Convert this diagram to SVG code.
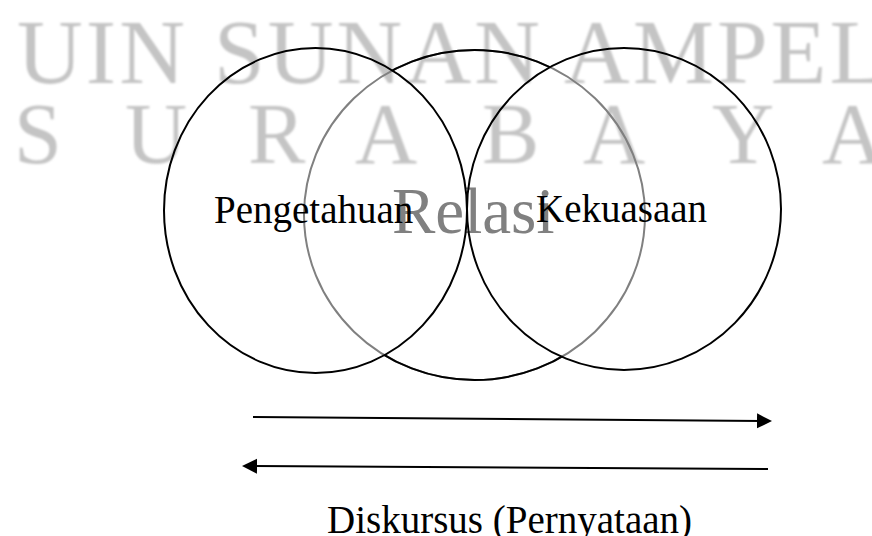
<svg xmlns="http://www.w3.org/2000/svg" width="872" height="536" viewBox="0 0 872 536">
  <style>
    .wm { font-family: "Liberation Serif", "Times New Roman", serif; fill: #c4c4c4; }
    .lbl { font-family: "Liberation Serif", "Times New Roman", serif; font-size: 39px; fill: #000; }
    .circ { fill: none; stroke: #000; stroke-width: 2; }
    .arrow { stroke: #000; stroke-width: 2; fill: none; marker-end: url(#head); }
  </style>
  <defs>
    <filter id="soft" x="-5%" y="-20%" width="110%" height="140%">
      <feGaussianBlur stdDeviation="1.3"/>
    </filter>
    <marker id="head" markerUnits="userSpaceOnUse" markerWidth="16" markerHeight="16" refX="5" refY="7.5" orient="auto">
      <path d="M0,0 L15,7.5 L0,15 Z" fill="#000"/>
    </marker>
    <mask id="outsideSides" maskUnits="userSpaceOnUse" x="0" y="0" width="872" height="536">
      <rect x="0" y="0" width="872" height="536" fill="#fff"/>
      <ellipse cx="315.5" cy="210.5" rx="151.5" ry="162.5" fill="#000"/>
      <ellipse cx="624" cy="209" rx="157" ry="161" fill="#000"/>
    </mask>
  </defs>
  <rect width="872" height="536" fill="#fff"/>

  <g id="watermark" filter="url(#soft)">
    <text class="wm" x="17" y="83" font-size="91" textLength="868" lengthAdjust="spacing">UIN SUNAN AMPEL</text>
    <text class="wm" y="163" font-size="86"><tspan x="14">S</tspan><tspan x="125">U</tspan><tspan x="248">R</tspan><tspan x="355">A</tspan><tspan x="482">B</tspan><tspan x="583">A</tspan><tspan x="712">Y</tspan><tspan x="822">A</tspan></text>
  </g>

  <g id="relasi">
    <ellipse cx="474.5" cy="215" rx="170.5" ry="165" fill="none" stroke="#808080" stroke-width="2"/>
    <ellipse cx="474.5" cy="215" rx="170.5" ry="165" class="circ" mask="url(#outsideSides)"/>
    <text x="392" y="233" font-family="Liberation Serif, Times New Roman, serif" font-size="65" fill="#808080">Relasi</text>
  </g>

  <g id="pengetahuan">
    <ellipse cx="315.5" cy="210.5" rx="151.5" ry="162.5" class="circ"/>
    <text class="lbl" x="214" y="223">Pengetahuan</text>
  </g>

  <g id="kekuasaan">
    <ellipse cx="624" cy="209" rx="157" ry="161" class="circ"/>
    <text class="lbl" x="536" y="222">Kekuasaan</text>
  </g>

  <g id="connectors">
    <line class="arrow" x1="253" y1="417" x2="762" y2="420.9"/>
    <line class="arrow" x1="768" y1="469" x2="252" y2="466.1"/>
  </g>

  <g id="diskursus">
    <text class="lbl" x="327" y="533">Diskursus (Pernyataan)</text>
  </g>
</svg>
